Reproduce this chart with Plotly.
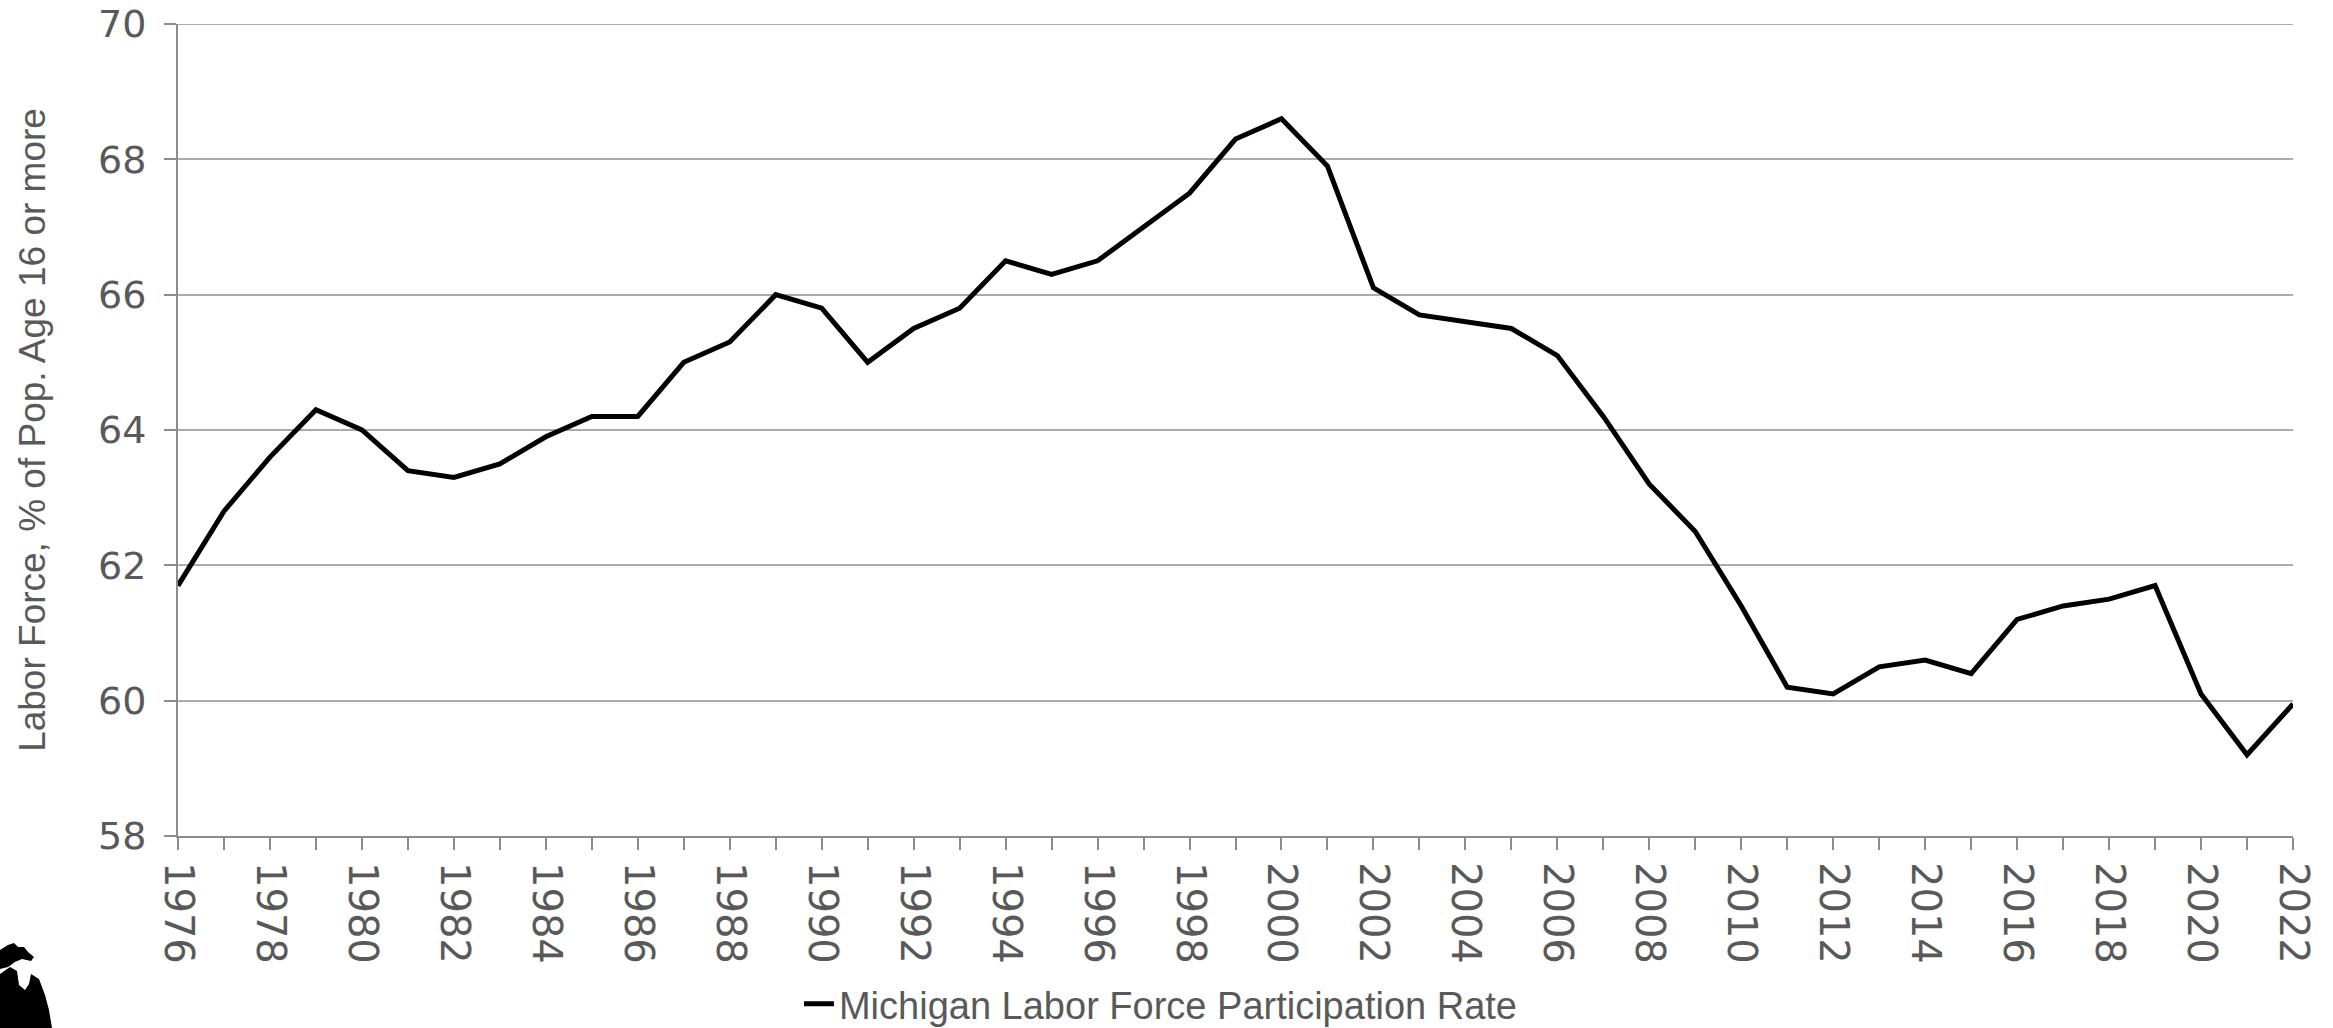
import plotly.graph_objects as go

years = list(range(1976, 2023))
rate = [61.7, 62.8, 63.6, 64.3, 64.0, 63.4, 63.3, 63.5, 63.9, 64.2,
        64.2, 65.0, 65.3, 66.0, 65.8, 65.0, 65.5, 65.8, 66.5, 66.3,
        66.5, 67.0, 67.5, 68.3, 68.6, 67.9, 66.1, 65.7, 65.6, 65.5,
        65.1, 64.2, 63.2, 62.5, 61.4, 60.2, 60.1, 60.5, 60.6, 60.4,
        61.2, 61.4, 61.5, 61.7, 60.1, 59.2, 59.95]
tick_text = [str(y) if y % 2 == 0 else "" for y in years]
y_ticks = [58, 60, 62, 64, 66, 68, 70]

W, H = 2333, 1028
L, R, T, B = 178, 40, 24, 192
pw, ph = W - L - R, H - T - B

def px(x, y):
    return (x - L) / pw, (H - B - y) / ph

logo_pts = [(0, 950), (8, 945), (14, 943), (18, 947), (24, 947), (28, 952),
            (34, 957), (31, 961), (22, 959), (15, 962), (8, 967), (0, 969)]
logo_pts2 = [(0, 974), (10, 967), (17, 971), (19, 985), (25, 990), (29, 984),
             (31, 974), (39, 979), (45, 995), (49, 1010), (52, 1028), (0, 1028)]

def path(pts):
    s = ""
    for i, (x, y) in enumerate(pts):
        a, b = px(x, y)
        s += ("M" if i == 0 else "L") + f"{a:.5f},{b:.5f} "
    return s + "Z"

TXT = "#595959"
GRID = "#ABABAB"
YTICKFONT = dict(family="DejaVu Sans, Verdana, sans-serif", size=38, color=TXT)
XTICKFONT = dict(family="DejaVu Sans, Verdana, sans-serif", size=40, color=TXT)

fig = go.Figure()
fig.add_trace(go.Scatter(
    x=years, y=rate, mode="lines",
    line=dict(color="black", width=5),
    name="Michigan Labor Force Participation Rate",
))

fig.update_layout(
    width=W, height=H,
    margin=dict(l=L, r=R, t=T, b=B, autoexpand=False),
    paper_bgcolor="white", plot_bgcolor="white",
    font=dict(family="Liberation Sans, Arial, sans-serif", color=TXT, size=38),
    showlegend=True,
    legend=dict(
        orientation="h", x=0.2936, xanchor="left", y=-0.207, yanchor="middle",
        font=dict(family="Liberation Sans, Arial, sans-serif", size=38, color=TXT),
        bgcolor="rgba(0,0,0,0)", borderwidth=0,
    ),
    xaxis=dict(
        range=[years[0], years[-1]], tickmode="array", tickvals=years, ticktext=tick_text,
        tickangle=90, ticks="outside", ticklen=12, tickwidth=2, tickcolor="#8C8C8C",
        showline=True, linecolor="#8C8C8C", linewidth=2, showgrid=False, zeroline=False,
        tickfont=XTICKFONT, ticklabelstandoff=4, automargin=False,
        ticklabeloverflow="allow",
    ),
    yaxis=dict(
        range=[y_ticks[0], y_ticks[-1]], tickvals=y_ticks, ticks="outside", ticklen=12,
        tickwidth=2, tickcolor="#8C8C8C", showline=True, linecolor="#8C8C8C", linewidth=2,
        showgrid=True, gridcolor=GRID, gridwidth=2, zeroline=False,
        tickfont=YTICKFONT, ticklabelstandoff=10, automargin=False,
        ticklabeloverflow="allow",
        title=dict(text="Labor Force, % of Pop. Age 16 or more",
                   font=dict(size=37, color=TXT), standoff=41),
    ),
    shapes=[
        # top gridline (plotly drops gridlines at the range edge)
        dict(type="line", xref="paper", yref="y", x0=0, x1=1,
             y0=y_ticks[-1], y1=y_ticks[-1], line=dict(color=GRID, width=2),
             layer="below"),
        dict(type="path", xref="paper", yref="paper", path=path(logo_pts),
             fillcolor="black", line=dict(width=0)),
        dict(type="path", xref="paper", yref="paper", path=path(logo_pts2),
             fillcolor="black", line=dict(width=0)),
    ],
)

fig.write_html("out.html", config={"displayModeBar": False},
               post_script="document.body.style.margin='0';")
